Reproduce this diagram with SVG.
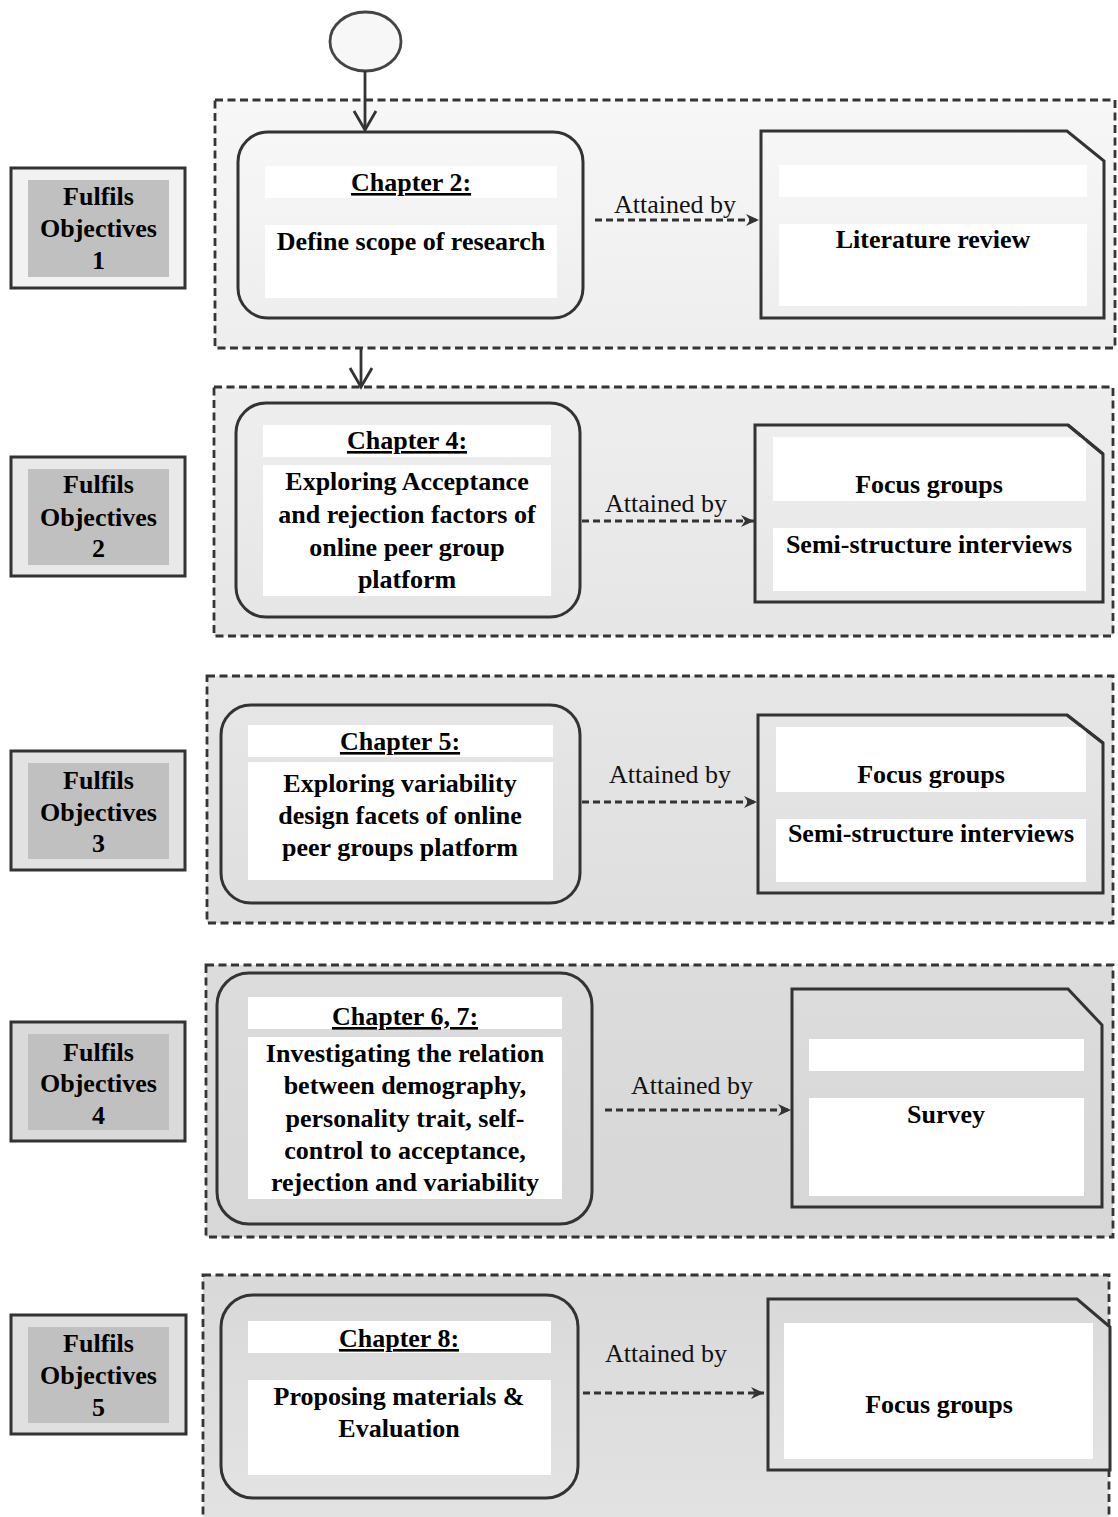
<svg xmlns="http://www.w3.org/2000/svg" width="1118" height="1517" viewBox="0 0 1118 1517">
  <defs>
    <style>
      .sec { stroke:#353535; stroke-width:2.8; stroke-dasharray:8 4.5; }
      .shape { stroke:#333; stroke-width:3; }
      .wb { fill:#fff; }
      .inner { fill:#c0c0c0; }
      .t { font-family:"Liberation Serif","Times New Roman",serif; font-size:26px; font-weight:bold; text-anchor:middle; fill:#000; }
      .u { text-decoration:underline; }
      .lbl { font-family:"Liberation Serif","Times New Roman",serif; font-size:26px; text-anchor:middle; fill:#111; }
      .conn { stroke:#333; stroke-width:2.8; fill:none; }
      .dash { stroke:#333; stroke-width:2.8; stroke-dasharray:7 4; fill:none; }
    </style>
    <linearGradient id="g1" x1="0" y1="0" x2="0" y2="1"><stop offset="0" stop-color="#f7f7f7"/><stop offset="1" stop-color="#eeeeee"/></linearGradient>
    <linearGradient id="g2" x1="0" y1="0" x2="0" y2="1"><stop offset="0" stop-color="#eeeeee"/><stop offset="1" stop-color="#e6e6e6"/></linearGradient>
    <linearGradient id="g3" x1="0" y1="0" x2="0" y2="1"><stop offset="0" stop-color="#e6e6e6"/><stop offset="1" stop-color="#dfdfdf"/></linearGradient>
    <linearGradient id="g4" x1="0" y1="0" x2="0" y2="1"><stop offset="0" stop-color="#dcdcdc"/><stop offset="1" stop-color="#d7d7d7"/></linearGradient>
    <linearGradient id="g5" x1="0" y1="0" x2="0" y2="1"><stop offset="0" stop-color="#d9d9d9"/><stop offset="1" stop-color="#e3e3e3"/></linearGradient>
    <marker id="head" markerUnits="userSpaceOnUse" markerWidth="14" markerHeight="12" refX="13" refY="6" orient="auto">
      <path d="M0,0 L13,6 L0,12 L4,6 Z" fill="#333"/>
    </marker>
  </defs>

  <!-- section frames -->
  <g id="section1"><rect class="sec" x="215" y="100" width="900" height="248" fill="url(#g1)"/></g>
  <g id="section2"><rect class="sec" x="214" y="387" width="899" height="249" fill="url(#g2)"/></g>
  <g id="section3"><rect class="sec" x="207" y="676" width="906" height="247" fill="url(#g3)"/></g>
  <g id="section4"><rect class="sec" x="206" y="965" width="907" height="272" fill="url(#g4)"/></g>
  <g id="section5"><rect class="sec" x="203" y="1275" width="906" height="270" fill="url(#g5)"/></g>

  <!-- start node -->
  <g id="start">
    <ellipse cx="365.5" cy="41.5" rx="35.5" ry="29.5" fill="#f7f7f7" stroke="#444" stroke-width="2.8"/>
  </g>

  <!-- objectives -->
  <g id="objective1">
    <rect class="shape" x="11" y="168" width="174" height="120" fill="#f2f2f2"/>
    <rect class="inner" x="28" y="180" width="141" height="97"/>
    <text class="t" x="98.5" y="205">Fulfils</text>
    <text class="t" x="98.5" y="237">Objectives</text>
    <text class="t" x="98.5" y="269">1</text>
  </g>
  <g id="objective2">
    <rect class="shape" x="11" y="457" width="174" height="119" fill="#e9e9e9"/>
    <rect class="inner" x="28" y="469" width="141" height="96"/>
    <text class="t" x="98.5" y="493">Fulfils</text>
    <text class="t" x="98.5" y="526">Objectives</text>
    <text class="t" x="98.5" y="557">2</text>
  </g>
  <g id="objective3">
    <rect class="shape" x="11" y="751" width="174" height="119" fill="#e2e2e2"/>
    <rect class="inner" x="28" y="763" width="141" height="96"/>
    <text class="t" x="98.5" y="789">Fulfils</text>
    <text class="t" x="98.5" y="821">Objectives</text>
    <text class="t" x="98.5" y="852">3</text>
  </g>
  <g id="objective4">
    <rect class="shape" x="11" y="1022" width="174" height="119" fill="#dadada"/>
    <rect class="inner" x="28" y="1034" width="141" height="96"/>
    <text class="t" x="98.5" y="1061">Fulfils</text>
    <text class="t" x="98.5" y="1092">Objectives</text>
    <text class="t" x="98.5" y="1124">4</text>
  </g>
  <g id="objective5">
    <rect class="shape" x="11" y="1315" width="175" height="119" fill="#e0e0e0"/>
    <rect class="inner" x="28" y="1327" width="141" height="96"/>
    <text class="t" x="98.5" y="1352">Fulfils</text>
    <text class="t" x="98.5" y="1384">Objectives</text>
    <text class="t" x="98.5" y="1416">5</text>
  </g>

  <!-- chapter activities -->
  <g id="chapter2">
    <rect class="shape" x="238" y="132" width="345" height="186" rx="30" fill="url(#g1)"/>
    <rect class="wb" x="265" y="166" width="292" height="32"/>
    <rect class="wb" x="265" y="225" width="292" height="73"/>
    <text class="t u" x="411" y="191">Chapter 2:</text>
    <text class="t" x="411" y="250">Define scope of research</text>
  </g>
  <g id="chapter4">
    <rect class="shape" x="236" y="403" width="344" height="214" rx="30" fill="url(#g2)"/>
    <rect class="wb" x="263" y="425" width="288" height="32"/>
    <rect class="wb" x="263" y="465" width="288" height="131"/>
    <text class="t u" x="407" y="449">Chapter 4:</text>
    <text class="t" x="407" y="490">Exploring Acceptance</text>
    <text class="t" x="407" y="523">and rejection factors of</text>
    <text class="t" x="407" y="556">online peer group</text>
    <text class="t" x="407" y="588">platform</text>
  </g>
  <g id="chapter5">
    <rect class="shape" x="221" y="705" width="359" height="198" rx="30" fill="url(#g3)"/>
    <rect class="wb" x="248" y="725" width="305" height="32"/>
    <rect class="wb" x="248" y="762" width="305" height="118"/>
    <text class="t u" x="400" y="750">Chapter 5:</text>
    <text class="t" x="400" y="792">Exploring variability</text>
    <text class="t" x="400" y="824">design facets of online</text>
    <text class="t" x="400" y="856">peer groups platform</text>
  </g>
  <g id="chapter6-7">
    <rect class="shape" x="217" y="973" width="375" height="251" rx="32" fill="url(#g4)"/>
    <rect class="wb" x="248" y="997" width="314" height="32"/>
    <rect class="wb" x="248" y="1037" width="314" height="162"/>
    <text class="t u" x="405" y="1025">Chapter 6, 7:</text>
    <text class="t" x="405" y="1062">Investigating the relation</text>
    <text class="t" x="405" y="1094">between demography,</text>
    <text class="t" x="405" y="1127">personality trait, self-</text>
    <text class="t" x="405" y="1159">control to acceptance,</text>
    <text class="t" x="405" y="1191">rejection and variability</text>
  </g>
  <g id="chapter8">
    <rect class="shape" x="221" y="1295" width="357" height="203" rx="32" fill="url(#g5)"/>
    <rect class="wb" x="248" y="1321" width="303" height="32"/>
    <rect class="wb" x="248" y="1380" width="303" height="95"/>
    <text class="t u" x="399" y="1347">Chapter 8:</text>
    <text class="t" x="399" y="1405">Proposing materials &amp;</text>
    <text class="t" x="399" y="1437">Evaluation</text>
  </g>

  <!-- methods (documents with a clipped corner) -->
  <g id="method1">
    <path class="shape" d="M761,131 H1067 L1104,161 V318 H761 Z" fill="url(#g1)"/>
    <rect class="wb" x="779" y="165" width="308" height="32"/>
    <rect class="wb" x="779" y="224" width="308" height="82"/>
    <text class="t" x="933" y="248">Literature review</text>
  </g>
  <g id="method2">
    <path class="shape" d="M755,425 H1068 L1103,454 V602 H755 Z" fill="url(#g2)"/>
    <rect class="wb" x="773" y="437" width="313" height="64"/>
    <rect class="wb" x="773" y="528" width="313" height="63"/>
    <path d="M1068,425 L1103,454" class="shape" fill="none"/>
    <text class="t" x="929" y="493">Focus groups</text>
    <text class="t" x="929" y="553">Semi-structure interviews</text>
  </g>
  <g id="method3">
    <path class="shape" d="M758,715 H1067 L1103,743 V893 H758 Z" fill="url(#g3)"/>
    <rect class="wb" x="776" y="727" width="310" height="65"/>
    <rect class="wb" x="776" y="819" width="310" height="63"/>
    <path d="M1067,715 L1103,743" class="shape" fill="none"/>
    <text class="t" x="931" y="783">Focus groups</text>
    <text class="t" x="931" y="842">Semi-structure interviews</text>
  </g>
  <g id="method4">
    <path class="shape" d="M792,989 H1068 L1102,1025 V1207 H792 Z" fill="url(#g4)"/>
    <rect class="wb" x="809" y="1039" width="275" height="32"/>
    <rect class="wb" x="809" y="1098" width="275" height="98"/>
    <text class="t" x="946" y="1123">Survey</text>
  </g>
  <g id="method5">
    <path class="shape" d="M768,1299 H1077 L1110,1327 V1470 H768 Z" fill="url(#g5)"/>
    <rect class="wb" x="784" y="1323" width="309" height="136"/>
    <text class="t" x="939" y="1413">Focus groups</text>
  </g>

  <!-- connectors -->
  <g id="connectors">
    <line class="conn" x1="365" y1="71" x2="365" y2="129"/>
    <polyline class="conn" points="354,111 365,130 376,111"/>
    <line class="conn" x1="361" y1="349" x2="361" y2="386"/>
    <polyline class="conn" points="350,368 361,387 372,368"/>

    <line class="dash" x1="595" y1="220" x2="759" y2="220" marker-end="url(#head)"/>
    <text class="lbl" x="675" y="213">Attained by</text>

    <line class="dash" x1="582" y1="521" x2="754" y2="521" marker-end="url(#head)"/>
    <text class="lbl" x="666" y="512">Attained by</text>

    <line class="dash" x1="582" y1="802" x2="757" y2="802" marker-end="url(#head)"/>
    <text class="lbl" x="670" y="783">Attained by</text>

    <line class="dash" x1="605" y1="1110" x2="791" y2="1110" marker-end="url(#head)"/>
    <text class="lbl" x="692" y="1094">Attained by</text>

    <line class="dash" x1="583" y1="1393" x2="764" y2="1393" marker-end="url(#head)"/>
    <text class="lbl" x="666" y="1362">Attained by</text>
  </g>
</svg>
